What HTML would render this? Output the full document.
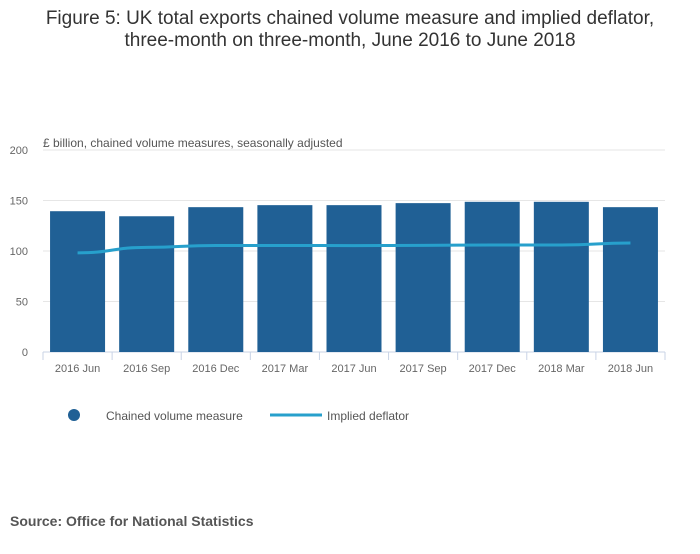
<!DOCTYPE html>
<html><head><meta charset="utf-8"><style>
body{margin:0;background:#fff;font-family:"Liberation Sans",sans-serif;}
svg text{font-family:"Liberation Sans",sans-serif;}
</style></head><body>
<svg width="700" height="549">
<text x="350" y="24" text-anchor="middle" font-size="19" fill="#333">Figure 5: UK total exports chained volume measure and implied deflator,</text>
<text x="350" y="46" text-anchor="middle" font-size="19" fill="#333">three-month on three-month, June 2016 to June 2018</text>
<text x="43" y="147" font-size="12" fill="#555">£ billion, chained volume measures, seasonally adjusted</text>
<g id="grid"></g><g id="bars"></g><g id="line"></g><g id="xaxis"></g>
<g>
<circle cx="74" cy="415" r="6" fill="#206095"/>
<text x="106" y="420" font-size="12" fill="#555">Chained volume measure</text>
<line x1="270" y1="415" x2="322" y2="415" stroke="#27a0cc" stroke-width="3"/>
<text x="327" y="420" font-size="12" fill="#555">Implied deflator</text>
</g>
<text x="10" y="526" font-size="14" font-weight="bold" fill="#555">Source: Office for National Statistics</text>
</svg>
<script>
const categories=["2016 Jun","2016 Sep","2016 Dec","2017 Mar","2017 Jun","2017 Sep","2017 Dec","2018 Mar","2018 Jun"];
const cvmValues=[139.4,134.4,143.4,145.4,145.4,147.4,148.7,148.7,143.4];
const deflatorValues=[98.2,103.6,105.5,105.5,105.3,105.6,106,106,107.9];
const yTicks=[0,50,100,150,200];
const NS="http://www.w3.org/2000/svg";
const x0=43,x1=665,yBase=352,yTop=150,yMax=200;
const bw=(x1-x0)/categories.length;
const y=v=>yBase-(v/yMax)*(yBase-yTop);
const xc=i=>x0+bw*(i+0.5);
function mk(t,a,p){const e=document.createElementNS(NS,t);for(const k in a)e.setAttribute(k,a[k]);p.appendChild(e);return e;}
const grid=document.getElementById('grid');
yTicks.forEach(t=>{
 const l=mk('line',{x1:x0,x2:x1,y1:y(t),y2:y(t),stroke:t===0?'#c8d3e6':'#e6e6e6'},grid);
 
 
 const tx=mk('text',{x:28,y:y(t)+4,'text-anchor':'end','font-size':11,fill:'#666'},grid);tx.textContent=t;
 
 
});
const bars=document.getElementById('bars');
cvmValues.forEach((v,i)=>{
 const r=mk('rect',{x:xc(i)-27.5,width:55,y:y(v),height:yBase-y(v),fill:'#206095'},bars);
 
 
});
const pts=deflatorValues.map((v,i)=>[xc(i),y(v)]);
let d='M'+pts[0].join(',');
for(let i=1;i<pts.length;i++){const p=pts[i-1],q=pts[i],m=(p[0]+q[0])/2;d+=` C${m},${p[1]} ${m},${q[1]} ${q[0]},${q[1]}`;}
const ln=mk('path',{d:d,fill:'none',stroke:'#27a0cc',"stroke-width":3},document.getElementById('line'));


const xa=document.getElementById('xaxis');
categories.forEach((c,i)=>{
 mk('line',{x1:x0+bw*i,x2:x0+bw*i,y1:yBase,y2:yBase+8,stroke:'#c8d3e6'},xa);
 const t=mk('text',{x:xc(i),y:yBase+20,'text-anchor':'middle','font-size':11,fill:'#666'},xa);t.textContent=c;
 
 
});
mk('line',{x1:x1,x2:x1,y1:yBase,y2:yBase+8,stroke:'#c8d3e6'},xa);
</script>
</body></html>
